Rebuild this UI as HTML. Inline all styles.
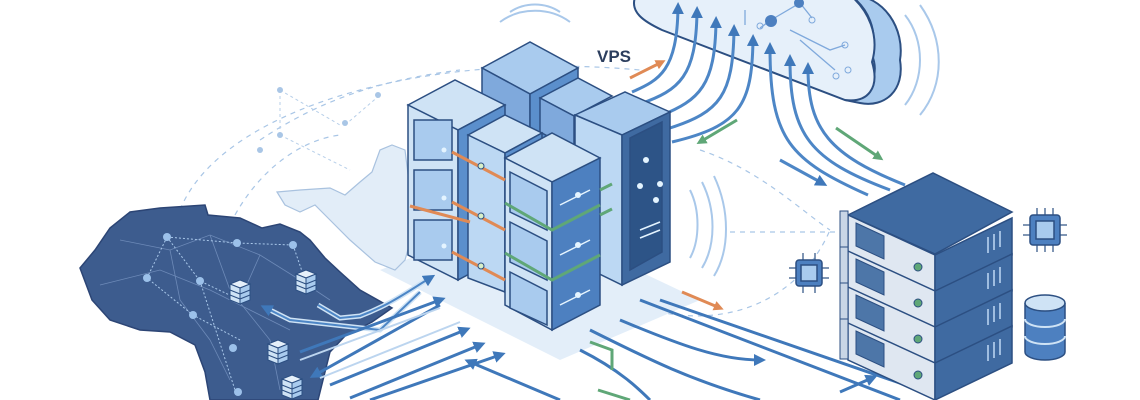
<!DOCTYPE html>
<html><head><meta charset="utf-8"><style>
html,body{margin:0;padding:0;background:#fff;}
svg{display:block;}
text{font-family:"Liberation Sans",sans-serif;}
</style></head><body>
<svg width="1140" height="400" viewBox="0 0 1140 400" xmlns="http://www.w3.org/2000/svg">
<defs>
<marker id="ah" markerWidth="12" markerHeight="12" refX="6" refY="6" orient="auto" markerUnits="userSpaceOnUse"><path d="M0,0 L12,6 L0,12 z" fill="#3f78ba"/></marker>
<marker id="al" markerWidth="12" markerHeight="12" refX="6" refY="6" orient="auto" markerUnits="userSpaceOnUse"><path d="M0,0 L12,6 L0,12 z" fill="#7fb0e0"/></marker>
<marker id="ao" markerWidth="10" markerHeight="10" refX="6" refY="5" orient="auto" markerUnits="userSpaceOnUse"><path d="M0,0 L10,5 L0,10 z" fill="#e08a55"/></marker>
<marker id="ag" markerWidth="10" markerHeight="10" refX="6" refY="5" orient="auto" markerUnits="userSpaceOnUse"><path d="M0,0 L10,5 L0,10 z" fill="#5fa777"/></marker>
<g id="unit">
<polygon points="0,0 87,40 87,77 0,37" fill="#dfe7f1" stroke="#2c4f82" stroke-width="1.5"/>
<rect x="-8" y="-4" width="8" height="40" fill="#c9d6e6" stroke="#2c4f82"/>
<polygon points="8,8 36,21 36,44 8,31" fill="#4d76a8" stroke="#2c4f82"/>
<polygon points="87,40 164,3 164,40 87,77" fill="#3f6aa1" stroke="#2c4f82" stroke-width="1.5"/>
<circle cx="70" cy="52" r="4" fill="#5fa777" stroke="#2c4f82"/>
<g stroke="#9fbde0" stroke-width="2"><line x1="140" y1="22" x2="140" y2="38"/><line x1="146" y1="19" x2="146" y2="35"/><line x1="152" y1="16" x2="152" y2="32"/></g>
</g>
<g id="cube">
<polygon points="0,4 10,0 20,4 10,8" fill="#e6f0fa" stroke="#2c4f82"/>
<polygon points="0,4 10,8 10,24 0,20" fill="#cfe3f5" stroke="#2c4f82"/>
<polygon points="10,8 20,4 20,20 10,24" fill="#a9cbee" stroke="#2c4f82"/>
<line x1="0" y1="10" x2="10" y2="14" stroke="#2c4f82"/><line x1="10" y1="14" x2="20" y2="10" stroke="#2c4f82"/>
<line x1="0" y1="15" x2="10" y2="19" stroke="#2c4f82"/><line x1="10" y1="19" x2="20" y2="15" stroke="#2c4f82"/>
</g>
</defs>
<rect width="1140" height="400" fill="#fff"/>
<!-- dashed orbit lines -->
<g fill="none" stroke="#a9c6e6" stroke-width="1.2" stroke-dasharray="5,5">
<path d="M180,210 C220,110 420,50 640,70"/>
<path d="M235,215 C260,170 300,140 340,135"/>
<path d="M260,140 C320,100 380,80 460,70"/>
<path d="M620,300 C720,340 800,300 830,230"/>
<path d="M700,150 C760,170 800,210 830,230"/>
<line x1="730" y1="232" x2="845" y2="232"/>
</g>
<g fill="none" stroke="#b7cfe9" stroke-width="1" stroke-dasharray="3,3">
<line x1="280" y1="90" x2="280" y2="135"/><line x1="280" y1="90" x2="340" y2="125"/><line x1="280" y1="135" x2="350" y2="170"/><line x1="345" y1="125" x2="380" y2="95"/>
</g>
<g fill="#a9c6e6"><circle cx="280" cy="90" r="3"/><circle cx="280" cy="135" r="3"/><circle cx="345" cy="123" r="3"/><circle cx="378" cy="95" r="3"/><circle cx="260" cy="150" r="3"/></g>
<!-- cluster shadow -->
<polygon points="380,270 560,360 700,300 520,215" fill="#e3eef9"/>
<!-- Arabia light map -->
<path d="M277,192 L300,190 L330,188 L345,195 L360,182 L372,172 L380,150 L392,145 L405,150 L410,190 L412,235 L405,260 L395,270 L375,262 L350,240 L330,220 L315,205 L300,212 L285,205 Z" fill="#e2edf8" stroke="#a9c2df" stroke-width="1.2"/>
<!-- Africa -->
<path d="M80,268 L95,250 L110,228 L130,212 L160,208 L205,205 L208,215 L240,218 L262,228 L280,224 L300,232 L310,240 L325,258 L340,272 L360,290 L392,308 L372,322 L345,336 L330,352 L325,372 L318,400 L210,400 L205,372 L195,345 L170,332 L140,330 L110,320 L92,300 Z" fill="#3d5c8e" stroke="#2c4575" stroke-width="1.5"/>
<g stroke="#6d8ab8" stroke-width="0.8" fill="none">
<path d="M120,240 L170,250 L210,235 L260,255 L300,280 L330,300"/><path d="M100,285 L160,270 L210,290 L250,310 L290,330"/><path d="M170,250 L180,300 L210,340 L230,380"/><path d="M210,235 L230,290 L270,340 L280,390"/><path d="M260,255 L240,300"/>
</g>
<g stroke="#a9c8ea" stroke-width="1" stroke-dasharray="2,2" fill="none">
<path d="M167,237 L237,243 L293,245"/><path d="M167,237 L147,278 L193,315 L240,340"/><path d="M167,237 L200,281 L240,300"/><path d="M200,281 L235,390"/><path d="M293,245 L305,280"/>
</g>
<g fill="#9cc1ea"><circle cx="167" cy="237" r="4"/><circle cx="237" cy="243" r="4"/><circle cx="293" cy="245" r="4"/><circle cx="147" cy="278" r="4"/><circle cx="200" cy="281" r="4"/><circle cx="193" cy="315" r="4"/><circle cx="233" cy="348" r="4"/><circle cx="238" cy="392" r="4"/></g>
<use href="#cube" x="230" y="280"/><use href="#cube" x="296" y="270"/><use href="#cube" x="268" y="340"/><use href="#cube" x="282" y="375"/>
<!-- arrows from left -->
<path d="M318,305 L340,318 L360,316 C390,305 410,290 430,278" stroke="#cfe3f5" stroke-width="5" fill="none"/>
<path d="M318,305 L340,318 L360,316 C390,305 410,290 430,278" stroke="#4d86c6" stroke-width="2" fill="none" marker-end="url(#ah)"/>
<path d="M420,292 L380,330 L290,320 L266,308" stroke="#cfe3f5" stroke-width="5" fill="none"/>
<path d="M420,292 L380,330 L290,320 L266,308" stroke="#4d86c6" stroke-width="2" fill="none" marker-end="url(#ah)"/>
<g stroke="#3f78ba" stroke-width="3" fill="none" marker-end="url(#ah)">
<path d="M300,352 L440,300"/><path d="M330,385 L465,330"/><path d="M350,398 L480,345"/>
<path d="M370,400 L500,355"/>
</g>
<path d="M440,305 L315,375" stroke="#3f78ba" stroke-width="3" marker-end="url(#ah)"/>
<g stroke="#bcd5ef" stroke-width="2" fill="none">
<path d="M300,360 L440,308"/><path d="M320,378 L460,322"/>
</g>
<!-- bottom flow arrows -->
<g stroke="#3f78ba" stroke-width="3" fill="none">
<path d="M590,330 C650,360 690,380 760,400"/><path d="M620,320 C680,345 720,360 760,360" marker-end="url(#ah)"/>
<path d="M640,300 L900,400"/><path d="M660,300 L920,390"/>
<path d="M580,350 C620,370 640,390 650,400"/>
<path d="M560,400 L470,362" marker-end="url(#ah)"/>
<path d="M840,392 L872,378" marker-end="url(#ah)"/>
</g>
<path d="M590,342 L612,350 L612,370" stroke="#5fa777" stroke-width="3" fill="none"/>
<path d="M682,292 L720,308" stroke="#e08a55" stroke-width="3" marker-end="url(#ao)"/>
<path d="M598,390 L630,400" stroke="#5fa777" stroke-width="3"/>
<!-- cloud -->
<path d="M850,-5 C885,-5 905,30 900,60 C905,90 885,108 860,103 L845,100 C870,95 880,75 872,55 C878,30 868,8 850,-5 Z" fill="#a9cbee" stroke="#2c4f82" stroke-width="2"/>
<path d="M636,-5 C628,12 645,22 662,30 L845,100 C868,103 880,88 872,62 C880,35 868,10 850,-5 Z" fill="#e6f0fa" stroke="#2c4f82" stroke-width="2"/>
<g stroke="#7fa9dc" stroke-width="1.3" fill="none"><path d="M771,20 L800,3 L812,18"/><path d="M771,20 L760,28"/><path d="M790,30 L830,50 L845,45"/><path d="M800,40 L835,70"/><path d="M745,10 L745,25"/></g>
<g fill="#4d80c0"><circle cx="771" cy="21" r="6"/><circle cx="799" cy="3" r="5"/></g>
<g fill="none" stroke="#7fa9dc"><circle cx="760" cy="26" r="3"/><circle cx="812" cy="20" r="3"/><circle cx="845" cy="45" r="3"/><circle cx="848" cy="70" r="3"/><circle cx="836" cy="76" r="3"/></g>
<!-- arrows to cloud -->
<g stroke="#4d86c6" stroke-width="3" fill="none" marker-end="url(#ah)">
<path d="M632,92 C660,80 677,70 678,8"/>
<path d="M640,104 C680,90 696,76 697,12"/>
<path d="M660,116 C700,100 715,85 716,22"/>
<path d="M670,128 C720,112 733,95 734,30"/>
<path d="M672,142 C740,126 752,105 753,40"/>
<path d="M868,195 C790,160 770,140 770,48"/>
<path d="M890,190 C810,160 790,135 790,60"/>
<path d="M905,185 C830,155 808,130 808,68"/>
<path d="M780,160 L822,183"/>
</g>
<path d="M836,128 L880,158" stroke="#5fa777" stroke-width="3" marker-end="url(#ag)"/>
<path d="M737,120 L700,142" stroke="#5fa777" stroke-width="3" marker-end="url(#ag)"/>
<path d="M630,78 L662,62" stroke="#e08a55" stroke-width="3" marker-end="url(#ao)"/>
<g stroke="#a9c8ea" stroke-width="2" fill="none"><path d="M905,15 C925,40 925,80 905,105"/><path d="M920,5 C945,40 945,85 920,115"/>
<path d="M510,12 C525,2 545,2 560,12"/><path d="M500,22 C520,7 550,7 570,22"/>
<path d="M690,190 C700,210 700,240 690,258"/><path d="M702,182 C716,210 716,245 702,268"/><path d="M714,176 C730,210 730,250 714,276"/></g>
<!-- server cluster -->
<g stroke="#2c4f82" stroke-width="1.5">
<polygon points="482,68 530,42 578,68 530,94" fill="#a9cbee"/>
<polygon points="482,68 530,94 530,150 482,125" fill="#7fa9dc"/>
<polygon points="530,94 578,68 578,130 530,150" fill="#5b8fcc"/>
<polygon points="540,98 578,78 612,96 574,116" fill="#a9cbee"/>
<polygon points="540,98 574,116 574,150 540,132" fill="#7fa9dc"/>
<polygon points="408,105 455,80 505,105 458,130" fill="#cfe3f5"/>
<polygon points="408,105 458,130 458,280 408,255" fill="#cfe3f5"/>
<polygon points="458,130 505,105 505,255 458,280" fill="#5b8fcc"/>
<rect x="414" y="120" width="38" height="40" fill="#a9cbee"/>
<rect x="414" y="170" width="38" height="40" fill="#a9cbee"/>
<rect x="414" y="220" width="38" height="40" fill="#a9cbee"/>
<polygon points="575,115 625,92 670,112 622,135" fill="#a9cbee"/>
<polygon points="575,115 622,135 622,285 575,262" fill="#bcd8f3"/>
<polygon points="622,135 670,112 670,262 622,285" fill="#3f6aa1"/>
<polygon points="630,138 662,122 662,252 630,270" fill="#2d5487"/>
<polygon points="468,135 505,115 542,133 505,153" fill="#cfe3f5"/>
<polygon points="468,135 505,153 505,292 468,278" fill="#bcd8f3"/>
<polygon points="505,153 542,133 542,280 505,292" fill="#5b8fcc"/>
<polygon points="505,158 552,133 600,158 552,182" fill="#cfe3f5"/>
<polygon points="505,158 552,182 552,330 505,305" fill="#cfe3f5"/>
<polygon points="552,182 600,158 600,305 552,330" fill="#4d80c0"/>
<polygon points="510,172 547,191 547,230 510,212" fill="#a9cbee"/>
<polygon points="510,222 547,241 547,280 510,262" fill="#a9cbee"/>
<polygon points="510,272 547,291 547,325 510,308" fill="#a9cbee"/>
</g>
<g stroke="#5fa777" stroke-width="3" fill="none"><path d="M505,253 L552,280 L600,255"/><path d="M505,203 L552,230 L600,205"/><path d="M600,190 L612,184"/><path d="M600,215 L612,209"/></g>
<g stroke="#e08a55" stroke-width="3"><line x1="452" y1="152" x2="505" y2="180"/><line x1="452" y1="202" x2="505" y2="230"/><line x1="452" y1="252" x2="505" y2="280"/><line x1="410" y1="206" x2="470" y2="222"/></g>
<g fill="#d8f0c8" stroke="#2c4f82"><circle cx="481" cy="166" r="3"/><circle cx="481" cy="216" r="3"/><circle cx="481" cy="266" r="3"/></g>
<g fill="#e4f4ff"><circle cx="646" cy="160" r="3"/><circle cx="640" cy="186" r="3"/><circle cx="660" cy="184" r="3"/><circle cx="656" cy="200" r="3"/><circle cx="578" cy="195" r="3"/><circle cx="578" cy="245" r="3"/><circle cx="578" cy="295" r="3"/><circle cx="444" cy="150" r="2.5"/><circle cx="444" cy="198" r="2.5"/><circle cx="444" cy="246" r="2.5"/></g>
<g stroke="#e4f4ff" stroke-width="1.5"><line x1="640" y1="230" x2="660" y2="222"/><line x1="640" y1="238" x2="660" y2="230"/><line x1="560" y1="205" x2="590" y2="190"/><line x1="560" y1="255" x2="590" y2="240"/><line x1="560" y1="305" x2="590" y2="290"/></g>
<text x="597" y="62" font-size="17" font-weight="bold" fill="#2c3e5e">VPS</text>
<!-- right rack -->
<polygon points="848,215 933,173 1012,212 935,254" fill="#3f6aa1" stroke="#2c4f82" stroke-width="1.5"/>
<use href="#unit" x="848" y="215"/>
<use href="#unit" x="848" y="251"/>
<use href="#unit" x="848" y="287"/>
<use href="#unit" x="848" y="323"/>
<g stroke="#2c4f82" stroke-width="1.5">
<rect x="1030" y="215" width="30" height="30" rx="3" fill="#4d80c0"/><rect x="1036" y="221" width="18" height="18" fill="#a9cbee"/>
<rect x="796" y="260" width="26" height="26" rx="3" fill="#4d80c0"/><rect x="801" y="265" width="16" height="16" fill="#a9cbee"/>
</g>
<g stroke="#2c4f82" stroke-width="1.2"><line x1="1037" y1="208" x2="1037" y2="215"/><line x1="1045" y1="208" x2="1045" y2="215"/><line x1="1053" y1="208" x2="1053" y2="215"/><line x1="1037" y1="245" x2="1037" y2="252"/><line x1="1045" y1="245" x2="1045" y2="252"/><line x1="1053" y1="245" x2="1053" y2="252"/><line x1="1023" y1="225" x2="1030" y2="225"/><line x1="1023" y1="235" x2="1030" y2="235"/><line x1="1060" y1="225" x2="1067" y2="225"/><line x1="1060" y1="235" x2="1067" y2="235"/>
<line x1="803" y1="253" x2="803" y2="260"/><line x1="815" y1="253" x2="815" y2="260"/><line x1="803" y1="286" x2="803" y2="293"/><line x1="815" y1="286" x2="815" y2="293"/><line x1="789" y1="268" x2="796" y2="268"/><line x1="789" y1="278" x2="796" y2="278"/><line x1="822" y1="268" x2="829" y2="268"/><line x1="822" y1="278" x2="829" y2="278"/></g>
<g stroke="#2c4f82" stroke-width="1.5">
<path d="M1025,303 L1025,352 A20,8 0 0 0 1065,352 L1065,303" fill="#4d80c0"/>
<ellipse cx="1045" cy="303" rx="20" ry="8" fill="#cfe3f5"/>
<path d="M1025,319 A20,8 0 0 0 1065,319" fill="none" stroke="#cfe3f5" stroke-width="2"/>
<path d="M1025,336 A20,8 0 0 0 1065,336" fill="none" stroke="#cfe3f5" stroke-width="2"/>
</g>
</svg>
</body></html>
